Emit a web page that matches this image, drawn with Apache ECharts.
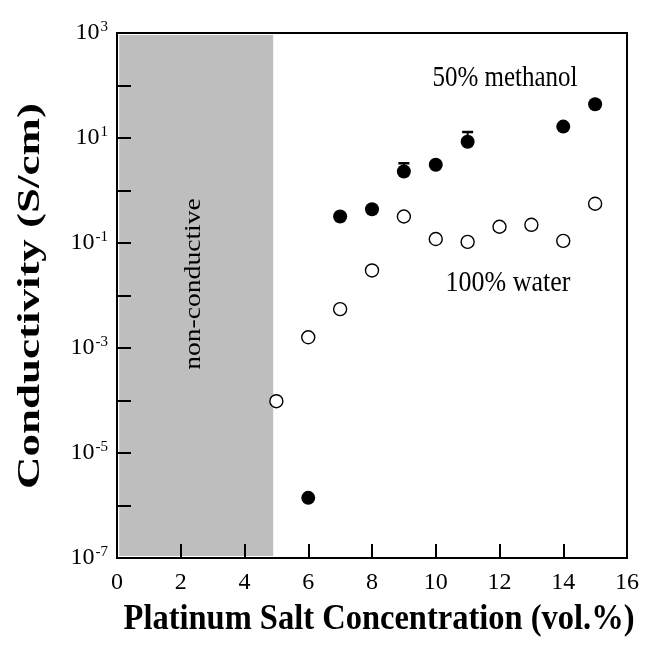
<!DOCTYPE html>
<html>
<head>
<meta charset="utf-8">
<script src="https://cdn.jsdelivr.net/npm/echarts@6/dist/echarts.min.js"></script>
<style>
  html, body { margin: 0; padding: 0; background: #fff; }
  #chart { width: 661px; height: 649px; }
</style>
</head>
<body>
<div id="chart"></div>
<script>
// Platinum salt concentration (vol.%) and measured conductivity (S/cm)
const methanolConc = [6, 7, 8, 9, 10, 11, 14, 15];
const methanolSigma = [1.4e-6, 0.32, 0.44, 2.3, 3.1, 8.5, 16.5, 44];
// upper ends of the error bars (lower ends sit under the markers)
const errorConc = [9, 11];
const errorTop = [3.3, 13];

const waterConc = [5, 6, 7, 8, 9, 10, 11, 12, 13, 14, 15];
const waterSigma = [9.7e-5, 1.6e-3, 5.5e-3, 0.030, 0.32, 0.119, 0.105, 0.204, 0.222, 0.110, 0.56];

// region where films do not conduct
const nonConductiveLimit = 4.9;

const xTicks = { min: 0, max: 16, step: 2 };
const yRange = { min: 1e-7, max: 1e3 };

const serif = '"Liberation Serif", "DejaVu Serif", serif';

const chart = echarts.init(document.getElementById('chart'), null, { renderer: 'canvas' });

const errorData = errorConc.map((x, i) => {
  const y = methanolSigma[methanolConc.indexOf(x)];
  return [x, y, errorTop[i]];
});

// shaded band drawn slightly inside the frame
const bandInsetX = 0.07;
const bandInsetDecades = 0.04;

chart.setOption({
  animation: false,
  backgroundColor: '#fff',
  grid: {
    left: 117, right: 34, top: 33, bottom: 91,
    show: true, borderColor: '#000', borderWidth: 2, backgroundColor: 'transparent'
  },
  xAxis: {
    type: 'value', z: 10,
    min: xTicks.min, max: xTicks.max, interval: xTicks.step,
    axisLine: { show: true, lineStyle: { color: '#000', width: 2 } },
    axisTick: { show: true, inside: true, length: 14, lineStyle: { color: '#000', width: 2 } },
    splitLine: { show: false },
    axisLabel: { color: '#000', fontFamily: serif, fontSize: 24, margin: 13 }
  },
  yAxis: {
    type: 'log', logBase: 10, z: 10,
    min: yRange.min, max: yRange.max, interval: 1,
    axisLine: { show: true, lineStyle: { color: '#000', width: 2 } },
    axisTick: { show: true, inside: true, length: 14, lineStyle: { color: '#000', width: 2 } },
    splitLine: { show: false },
    axisLabel: {
      margin: 9,
      formatter: function (v) {
        const e = Math.round(Math.log10(v));
        if (Math.abs(e % 2) !== 1) return '';
        return '{b|10}{s|' + e + '}';
      },
      rich: {
        b: { color: '#000', fontFamily: serif, fontSize: 24, lineHeight: 26 },
        s: { color: '#000', fontFamily: serif, fontSize: 15, verticalAlign: 'top', lineHeight: 14, padding: [0, 0, 0, 1] }
      }
    }
  },
  series: [
    {
      name: 'band',
      type: 'scatter',
      data: [],
      silent: true,
      markArea: {
        silent: true,
        itemStyle: { color: '#bebebe' },
        data: [[
          { coord: [xTicks.min + bandInsetX, yRange.min * Math.pow(10, bandInsetDecades)] },
          { coord: [nonConductiveLimit, yRange.max / Math.pow(10, bandInsetDecades)] }
        ]]
      },
      z: 1
    },
    {
      name: 'error',
      type: 'custom',
      z: 2,
      renderItem: function (params, api) {
        const x = api.value(0);
        const p0 = api.coord([x, api.value(1)]);
        const p1 = api.coord([x, api.value(2)]);
        const hw = 5.5;
        return {
          type: 'group',
          children: [
            { type: 'line', shape: { x1: p0[0], y1: p0[1], x2: p1[0], y2: p1[1] }, style: { stroke: '#000', lineWidth: 2 } },
            { type: 'line', shape: { x1: p1[0] - hw, y1: p1[1], x2: p1[0] + hw, y2: p1[1] }, style: { stroke: '#000', lineWidth: 2.5 } }
          ]
        };
      },
      data: errorData
    },
    {
      name: '100% water',
      type: 'scatter',
      z: 3,
      symbol: 'circle',
      symbolSize: 13,
      itemStyle: { color: '#fff', borderColor: '#000', borderWidth: 1.4, opacity: 1 },
      data: waterConc.map((x, i) => [x, waterSigma[i]])
    },
    {
      name: '50% methanol',
      type: 'scatter',
      z: 4,
      symbol: 'circle',
      symbolSize: 14,
      itemStyle: { color: '#000', opacity: 1 },
      data: methanolConc.map((x, i) => [x, methanolSigma[i]])
    }
  ],
  graphic: [
    {
      type: 'text', x: 505, y: 78, scaleY: 1.15, z: 10,
      style: { text: '50% methanol', font: '25px ' + serif, fill: '#000', align: 'center', verticalAlign: 'middle' }
    },
    {
      type: 'text', x: 508, y: 283, scaleY: 1.1, z: 10,
      style: { text: '100% water', font: '26px ' + serif, fill: '#000', align: 'center', verticalAlign: 'middle' }
    },
    {
      type: 'text', x: 194, y: 284, rotation: Math.PI / 2, scaleX: 1.2, z: 10,
      style: { text: 'non-conductive', font: '23px ' + serif, fill: '#000', align: 'center', verticalAlign: 'middle' }
    },
    {
      type: 'text', x: 379, y: 620, scaleY: 1.1, z: 10,
      style: { text: 'Platinum Salt Concentration (vol.%)', font: 'bold 32.5px ' + serif, fill: '#000', align: 'center', verticalAlign: 'middle' }
    },
    {
      type: 'text', x: 31, y: 296, rotation: Math.PI / 2, scaleX: 1.45, z: 10,
      style: { text: 'Conductivity (S/cm)', font: 'bold 31px ' + serif, fill: '#000', align: 'center', verticalAlign: 'middle' }
    }
  ]
});
</script>
</body>
</html>
